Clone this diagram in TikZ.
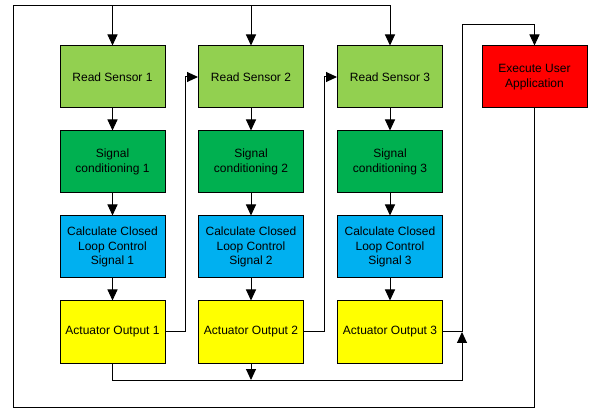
\documentclass[tikz,border=0pt]{standalone}
\usepackage{fontspec}
\setmainfont{Liberation Sans}
\usetikzlibrary{arrows.meta,positioning,calc}
\definecolor{readgreen}{HTML}{92D050}
\definecolor{condgreen}{HTML}{00B050}
\definecolor{calcblue}{HTML}{00B0F0}
\definecolor{actyellow}{HTML}{FFFF00}
\definecolor{userred}{HTML}{FF0000}

\begin{document}
\begin{tikzpicture}[x=1pt,y=-1pt,line width=1pt,
  >={Triangle[length=11pt,width=10pt]},
  block/.style={draw,line width=1pt,minimum width=105pt,minimum height=62pt,
    align=center,font=\fontsize{12}{14.3}\selectfont}]
\useasboundingbox (0,0) rectangle (590,409);
% draw the three sensor chains
\foreach \i/\x in {1/112.5,2/251,3/390}{
  \node[block,fill=readgreen] (read\i) at (\x,77) {Read Sensor \i};
  \node[block,fill=condgreen,below=22pt of read\i] (cond\i) {Signal\\conditioning \i};
  \node[block,fill=calcblue,below=22pt of cond\i] (calc\i) {Calculate Closed\\Loop Control\\Signal \i};
  \node[block,fill=actyellow,below=22pt of calc\i] (act\i) {Actuator Output \i};
  \draw[->] (read\i) -- (cond\i);
  \draw[->] (cond\i) -- (calc\i);
  \draw[->] (calc\i) -- (act\i);
}
% draw user block
\node[block,fill=userred] (user) at (534.5,77) {Execute User\\Application};
% draw coordinates of the loops
\coordinate (loopbl) at (13,407);
\coordinate (looptl) at (13,6);
\coordinate (bus) at (462,380);
\coordinate (riser) at (462,25);
% draw outer loop
\draw[->] (user.south) |- (loopbl) -- (looptl) -| (read3.north);
\draw[->] (read1.north |- looptl) -- (read1.north);
\draw[->] (read2.north |- looptl) -- (read2.north);
% draw actuator links
\draw[->] (act1.east) -- ++(20,0) |- (read2.west);
\draw[->] (act2.east) -- ++(20,0) |- (read3.west);
\draw[->] (act3.east) -| (riser) -| (user.north);
\draw[->] (act1.south) |- (bus) -- (act3.east -| bus);
\draw[->] (act2.south) -- (act2.south |- bus);
\end{tikzpicture}
\end{document}
